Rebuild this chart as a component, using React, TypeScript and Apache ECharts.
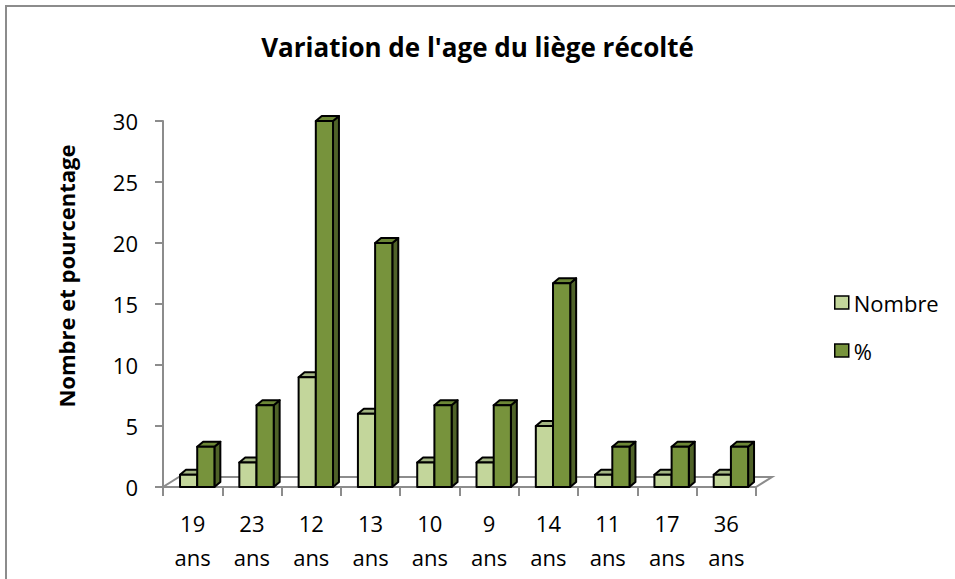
import React, { useEffect, useRef } from 'react';
import * as echarts from 'echarts';

const categories = ['19 ans', '23 ans', '12 ans', '13 ans', '10 ans', '9 ans', '14 ans', '11 ans', '17 ans', '36 ans'];
const nombre = [1, 2, 9, 6, 2, 2, 5, 1, 1, 1];
const pourcentage = [3.3, 6.7, 30, 20, 6.7, 6.7, 16.7, 3.3, 3.3, 3.3];
const yMin = 0;
const yMax = 30;
const yInterval = 5;
const yAxisTitle = 'Nombre et pourcentage';

const FONT = '"Open Sans", "Noto Sans", sans-serif';
const GRAY = '#8c8c8c';

type Palette = { front: string; top: string; side: string };
const NOMBRE_COLORS: Palette = { front: '#C3D69B', top: '#A3B583', side: '#95A872' };
const PCT_COLORS: Palette = { front: '#77933C', top: '#6C8736', side: '#4F6228' };

function barRenderer(slot: number, pal: Palette) {
  return (params: any, api: any) => {
    const xi = api.value(0);
    const v = api.value(1);
    const base = api.coord([xi, 0]);
    const top = api.coord([xi, v]);
    const bw = api.size([1, 0])[0];
    const catStart = base[0] - bw / 2;
    const w = bw * 0.29;
    const left = catStart + bw * (0.287 + slot * 0.29);
    const dx = bw * 0.1;
    const dy = -5;
    const by = base[1];
    const ty = top[1];
    const stroke = { stroke: '#000', lineWidth: 2, lineJoin: 'round' };
    return {
      type: 'group',
      children: [
        {
          type: 'polygon',
          shape: { points: [[left + w, ty], [left + w + dx, ty + dy], [left + w + dx, by + dy], [left + w, by]] },
          style: { fill: pal.side, ...stroke },
        },
        {
          type: 'polygon',
          shape: { points: [[left, ty], [left + w, ty], [left + w + dx, ty + dy], [left + dx, ty + dy]] },
          style: { fill: pal.top, ...stroke },
        },
        {
          type: 'rect',
          shape: { x: left, y: ty, width: w, height: by - ty },
          style: { fill: pal.front, ...stroke },
        },
      ],
    };
  };
}

function floorRenderer(params: any, api: any) {
  const p0 = api.coord([0, 0]);
  const bw = api.size([1, 0])[0];
  const x0 = p0[0] - bw / 2;
  const x1 = x0 + bw * categories.length;
  const y = p0[1];
  const fdx = 16;
  const fdy = -10;
  return {
    type: 'polygon',
    shape: { points: [[x0, y], [x1, y], [x1 + fdx, y + fdy], [x0 + fdx, y + fdy]] },
    style: { fill: '#fff', stroke: GRAY, lineWidth: 2 },
  };
}

export default function App() {
  const ref = useRef<HTMLDivElement>(null);
  useEffect(() => {
    const chart = echarts.init(ref.current!, null, { renderer: 'svg' });
    const option: any = {
      animation: false,
      backgroundColor: '#fff',
      title: {
        text: "Variation de l'age du liège récolté",
        left: 'center',
        top: 29,
        textStyle: { fontFamily: FONT, fontSize: 26, fontWeight: 'bold', color: '#000' },
      },
      graphic: [
        {
          type: 'rect',
          shape: { x: 6, y: 6, width: 1100, height: 1000 },
          style: { fill: 'none', stroke: GRAY, lineWidth: 2 },
          silent: true,
          z: -1,
        },
        {
          type: 'text',
          x: 66,
          y: 276,
          rotation: Math.PI / 2,
          style: {
            text: yAxisTitle,
            fontFamily: FONT,
            fontSize: 22,
            fontWeight: 'bold',
            fill: '#000',
            textAlign: 'center',
            textVerticalAlign: 'middle',
          },
        },
      ],
      legend: {
        orient: 'vertical',
        left: 829,
        top: 284,
        itemWidth: 14,
        itemHeight: 13,
        itemGap: 21,
        icon: 'rect',
        data: [
          { name: 'Nombre', itemStyle: { color: NOMBRE_COLORS.front, borderColor: '#000', borderWidth: 1.5 } },
          { name: '%', itemStyle: { color: PCT_COLORS.front, borderColor: '#000', borderWidth: 1.5 } },
        ],
        textStyle: { fontFamily: FONT, fontSize: 22, color: '#000', lineHeight: 27 },
      },
      grid: { left: 163, right: 199, top: 121, bottom: 92, outerBoundsMode: 'none' },
      xAxis: {
        type: 'category',
        data: categories,
        boundaryGap: true,
        axisLine: { show: true, lineStyle: { color: GRAY, width: 2 } },
        axisTick: { show: true, length: 9, interval: 0, lineStyle: { color: GRAY, width: 2 } },
        axisLabel: {
          interval: 0,
          margin: 19,
          fontFamily: FONT,
          fontSize: 22,
          lineHeight: 34,
          color: '#000',
          formatter: (v: string) => v.replace(' ', '\n'),
        },
        splitLine: { show: false },
      },
      yAxis: {
        type: 'value',
        min: yMin,
        max: yMax,
        interval: yInterval,
        axisLine: { show: true, lineStyle: { color: GRAY, width: 2 } },
        axisTick: { show: true, length: 8, lineStyle: { color: GRAY, width: 2 } },
        axisLabel: { margin: 25, fontFamily: FONT, fontSize: 22, color: '#000' },
        splitLine: { show: false },
      },
      series: [
        {
          name: 'floor',
          type: 'custom',
          silent: true,
          z: 1,
          data: [[0, 0]],
          encode: { x: 0, y: 1 },
          renderItem: floorRenderer,
        },
        {
          name: 'Nombre',
          type: 'custom',
          z: 3,
          itemStyle: { color: NOMBRE_COLORS.front, borderColor: '#000', borderWidth: 1.5 },
          data: nombre.map((v, i) => [i, v]),
          encode: { x: 0, y: 1 },
          renderItem: barRenderer(0, NOMBRE_COLORS),
        },
        {
          name: '%',
          type: 'custom',
          z: 4,
          itemStyle: { color: PCT_COLORS.front, borderColor: '#000', borderWidth: 1.5 },
          data: pourcentage.map((v, i) => [i, v]),
          encode: { x: 0, y: 1 },
          renderItem: barRenderer(1, PCT_COLORS),
        },
      ],
    };
    chart.setOption(option);
    return () => chart.dispose();
  }, []);
  return (
    <div
      ref={ref}
      style={{ position: 'fixed', left: 0, top: 0, width: 955, height: 579, background: '#fff' }}
    />
  );
}
